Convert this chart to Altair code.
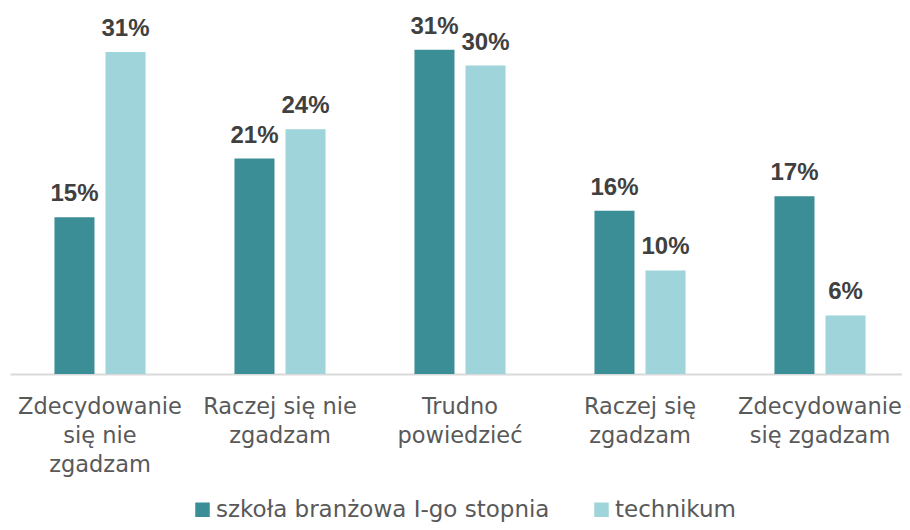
import altair as alt
import pandas as pd

categories = ["Zdecydowanie|się nie|zgadzam", "Raczej się nie|zgadzam", "Trudno|powiedzieć",
              "Raczej się|zgadzam", "Zdecydowanie|się zgadzam"]
series = ["szkoła branżowa I-go stopnia", "technikum"]
szkola = [15.0, 20.6, 31.0, 15.6, 17.0]
technikum = [30.8, 23.4, 29.5, 9.9, 5.6]
labels_szkola = ["15%", "21%", "31%", "16%", "17%"]
labels_technikum = ["31%", "24%", "30%", "10%", "6%"]

rows = []
for i, c in enumerate(categories):
    rows.append({"cat": c, "series": series[0], "value": szkola[i], "label": labels_szkola[i]})
    rows.append({"cat": c, "series": series[1], "value": technikum[i], "label": labels_technikum[i]})
df = pd.DataFrame(rows)

FONT = "DejaVu Sans"
x = alt.X("cat:N", sort=categories, title=None,
          scale=alt.Scale(paddingInner=0.494, paddingOuter=0.247, range=[0, 900]),
          axis=alt.Axis(labelExpr="split(datum.label, '|')", labelAngle=0,
                        labelFontSize=22.5, labelColor="#595959", labelFont=FONT,
                        labelLineHeight=29, labelPadding=21, ticks=False,
                        domainColor="#d9d9d9", domainWidth=2, labelLimit=300))
xo = alt.XOffset("series:N", sort=series, scale=alt.Scale(paddingInner=0.2157, paddingOuter=0))
y = alt.Y("value:Q", scale=alt.Scale(domain=[0, 35]), axis=None)

bars = alt.Chart(df).mark_bar().encode(
    x=x, xOffset=xo, y=y,
    color=alt.Color("series:N", sort=series,
                    scale=alt.Scale(domain=series, range=["#3B8E96", "#9ED4DA"]),
                    legend=alt.Legend(title=None, orient="none", direction="horizontal",
                                      legendX=181, legendY=490,
                                      symbolType="square", symbolSize=210, symbolStrokeWidth=0,
                                      labelFontSize=23, labelFont=FONT, labelColor="#595959",
                                      columnPadding=40, labelOffset=2, labelLimit=500)),
)
text = alt.Chart(df).mark_text(baseline="alphabetic", dy=-16, fontSize=24, fontWeight="bold",
                               font="Liberation Sans", color="#404040").encode(
    x=x, xOffset=xo, y=y, text="label:N")

chart = (bars + text).properties(
    width=892, height=366,
    autosize=alt.AutoSizeParams(type="none"),
    padding={"left": 2, "top": 0, "right": 0, "bottom": 148},
).configure_view(stroke=None)
chart.save("out.html", embed_options={"renderer": "svg", "actions": False})
